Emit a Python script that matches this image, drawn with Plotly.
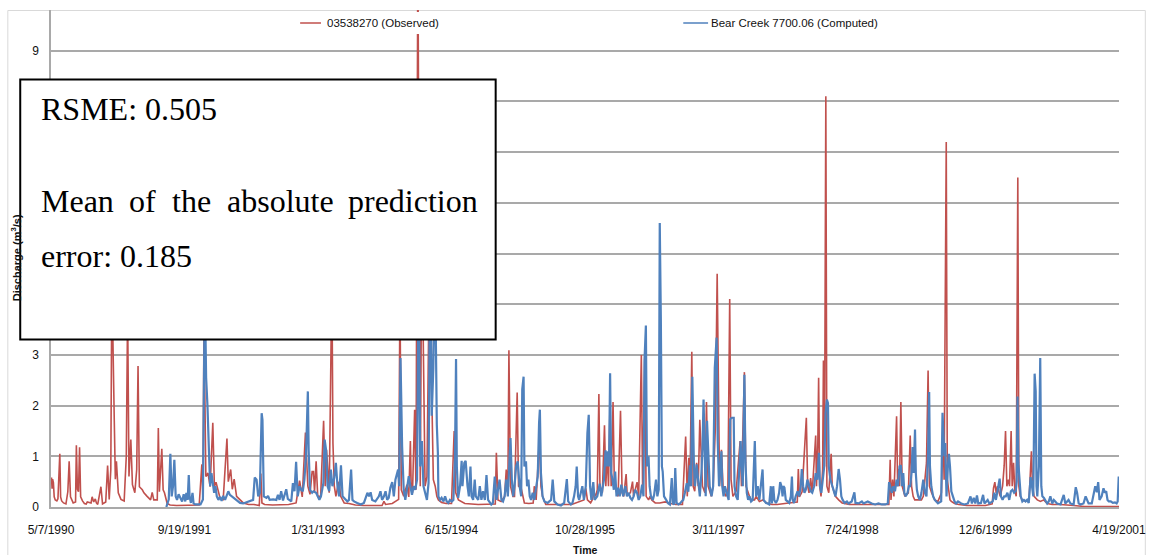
import datetime as dt
import pandas as pd
import plotly.graph_objects as go

# ---------------------------------------------------------------------------
# Daily discharge record, 5/7/1990 - 4/19/2001 (day index counted from 5/7/1990)
# ---------------------------------------------------------------------------
START = dt.date(1990, 5, 7)

obs_day = [
    0, 2, 4, 6, 9, 12, 16, 22, 26, 33, 36, 40, 47, 56, 63, 68, 73, 79, 83, 92,
    95, 99, 103, 107, 111, 118, 125, 132, 136, 150, 154, 160, 166, 170, 175, 187, 193, 205, 212, 218,
    224, 228, 232, 237, 241, 245, 252, 262, 274, 282, 287, 292, 299, 305, 314, 321, 326, 331, 342, 348,
    360, 373, 379, 385, 398, 402, 406, 415, 420, 425, 435, 446, 470, 500, 530, 555, 565, 569, 573, 580,
    588, 596, 606, 612, 618, 627, 633, 645, 659, 664, 673, 679, 683, 686, 695, 708, 720, 740, 760, 780,
    786, 790, 800, 830, 860, 890, 918, 931, 941, 953, 962, 970, 978, 983, 987, 993, 999, 1010, 1021, 1027,
    1032, 1042, 1052, 1056, 1061, 1067, 1074, 1079, 1085, 1098, 1116, 1140, 1170, 1200, 1240, 1247, 1253, 1278, 1290, 1302,
    1307, 1312, 1321, 1333, 1340, 1346, 1349, 1354, 1362, 1367, 1374, 1383, 1389, 1395, 1401, 1408, 1420, 1426, 1432, 1439,
    1445, 1451, 1463, 1480, 1500, 1510, 1516, 1526, 1550, 1600, 1640, 1664, 1668, 1674, 1686, 1699, 1705, 1711, 1715, 1721,
    1730, 1736, 1746, 1751, 1761, 1767, 1773, 1790, 1806, 1810, 1817, 1829, 1835, 1841, 1853, 1900, 1950, 1996, 2003, 2009,
    2015, 2021, 2027, 2034, 2040, 2046, 2052, 2056, 2065, 2073, 2078, 2083, 2088, 2093, 2098, 2105, 2110, 2118, 2124, 2133,
    2139, 2145, 2154, 2158, 2170, 2178, 2182, 2195, 2201, 2211, 2216, 2224, 2229, 2238, 2244, 2250, 2263, 2280, 2300, 2320,
    2340, 2365, 2377, 2383, 2389, 2393, 2400, 2405, 2411, 2418, 2424, 2430, 2436, 2440, 2449, 2455, 2461, 2467, 2473, 2480,
    2488, 2495, 2504, 2511, 2517, 2527, 2535, 2542, 2547, 2554, 2566, 2581, 2586, 2597, 2603, 2616, 2622, 2635, 2641, 2653,
    2666, 2680, 2700, 2720, 2745, 2763, 2795, 2799, 2803, 2813, 2829, 2834, 2839, 2845, 2851, 2864, 2867, 2872, 2875, 2879,
    2884, 2890, 2893, 2897, 2902, 2906, 2913, 2922, 2926, 2932, 2938, 2950, 2963, 2990, 3020, 3050, 3080, 3100, 3138, 3143,
    3146, 3152, 3157, 3167, 3171, 3175, 3178, 3183, 3188, 3198, 3211, 3218, 3223, 3229, 3235, 3260, 3267, 3279, 3285, 3290,
    3298, 3310, 3322, 3335, 3341, 3345, 3353, 3357, 3362, 3367, 3372, 3384, 3400, 3430, 3460, 3500, 3525, 3530, 3535, 3540,
    3545, 3555, 3564, 3570, 3575, 3580, 3586, 3590, 3596, 3600, 3605, 3610, 3615, 3621, 3625, 3630, 3638, 3650, 3663, 3672,
    3676, 3682, 3694, 3706, 3718, 3731, 3750, 3780, 3830, 3850, 3870, 4000,
]
obs_q = [
    0.45, 0.58, 0.36, 0.55, 0.48, 0.2, 0.14, 0.12, 0.16, 1.05, 0.2, 0.12, 0.08, 0.06, 0.3, 0.9, 0.2, 0.1, 0.08, 0.1,
    1.22, 0.35, 0.3, 1.18, 0.2, 0.12, 0.07, 0.06, 0.1, 0.08, 0.2, 0.1, 0.16, 0.08, 0.05, 0.4, 0.06, 0.1, 0.82, 0.15,
    0.74, 4.5, 2.78, 1.7, 0.55, 0.9, 0.28, 0.15, 0.12, 1.0, 3.9, 0.6, 1.33, 0.44, 0.28, 0.74, 2.78, 0.4, 0.34, 0.28,
    0.21, 0.14, 0.29, 0.14, 0.14, 1.56, 0.3, 1.15, 0.34, 0.28, 0.07, 0.04, 0.03, 0.03, 0.03, 0.04, 0.84, 0.15, 3.6, 0.6,
    0.67, 0.4, 1.66, 0.4, 0.49, 0.3, 0.18, 0.15, 1.35, 0.5, 0.74, 0.35, 0.54, 0.55, 0.21, 0.14, 0.08, 0.05, 0.05, 0.03,
    0.66, 0.08, 0.05, 0.04, 0.04, 0.05, 0.08, 0.52, 0.2, 1.47, 0.41, 0.25, 0.7, 0.7, 0.3, 0.9, 0.21, 0.21, 1.7, 0.41,
    1.13, 0.28, 4.5, 1.26, 0.41, 0.21, 0.41, 0.5, 0.21, 0.08, 0.07, 0.04, 0.03, 0.03, 0.03, 0.11, 0.05, 0.07, 0.11, 0.15,
    4.2, 0.34, 0.21, 0.44, 0.2, 1.3, 0.41, 0.28, 1.92, 0.34, 11.0, 0.41, 5.5, 2.5, 0.41, 0.6, 6.0, 2.28, 0.54, 0.41,
    0.21, 0.14, 0.09, 0.07, 0.07, 1.5, 0.28, 0.14, 0.07, 0.05, 0.05, 0.06, 1.07, 0.14, 0.11, 0.21, 0.74, 0.28, 3.09, 0.41,
    0.21, 0.21, 2.26, 0.41, 0.37, 0.21, 0.08, 0.07, 0.08, 0.41, 0.14, 1.33, 0.41, 0.21, 0.05, 0.05, 0.05, 0.14, 0.37, 0.14,
    0.11, 0.08, 0.14, 0.28, 0.21, 0.34, 2.23, 0.41, 0.28, 1.61, 0.41, 1.07, 0.41, 1.86, 0.41, 2.07, 0.41, 0.3, 0.21, 1.9,
    0.28, 0.21, 0.65, 0.24, 0.28, 0.5, 0.21, 0.49, 0.21, 3.0, 0.28, 3.06, 0.21, 0.14, 0.21, 0.14, 0.08, 0.08, 0.1, 0.07,
    0.05, 0.05, 1.39, 0.21, 0.97, 0.41, 3.06, 0.41, 0.31, 0.87, 0.41, 1.72, 1.07, 0.41, 0.28, 2.07, 0.41, 0.28, 0.21, 0.41,
    1.53, 4.6, 0.41, 1.13, 0.41, 0.21, 0.28, 4.1, 0.54, 0.21, 0.31, 1.3, 0.41, 2.66, 0.41, 0.21, 0.14, 0.14, 0.21, 0.11,
    0.14, 0.08, 0.05, 0.05, 0.06, 0.08, 0.1, 0.75, 0.2, 0.3, 1.76, 0.41, 0.28, 0.57, 0.28, 1.41, 0.41, 1.26, 2.55, 0.41,
    0.21, 0.74, 2.89, 0.8, 8.1, 0.41, 0.28, 1.05, 0.41, 0.28, 0.21, 0.14, 0.08, 0.05, 0.05, 0.05, 0.05, 0.05, 0.05, 0.93,
    0.14, 0.54, 0.21, 1.79, 0.41, 0.75, 0.41, 2.07, 0.41, 0.21, 0.28, 1.41, 0.41, 0.21, 0.14, 0.14, 0.21, 0.87, 2.69, 0.41,
    0.28, 0.14, 0.11, 0.28, 1.5, 0.54, 7.2, 0.54, 0.28, 0.14, 0.11, 0.07, 0.05, 0.03, 0.03, 0.03, 0.06, 0.37, 0.49, 0.28,
    0.41, 0.21, 0.41, 0.82, 1.5, 0.41, 0.54, 0.41, 1.5, 0.41, 0.87, 0.31, 0.21, 6.5, 0.41, 0.21, 0.14, 0.11, 0.14, 1.1,
    0.41, 0.21, 0.14, 0.11, 0.14, 0.07, 0.05, 0.05, 0.03, 0.02, 0.01, 0.01,
]

sim_day = [
    432, 441, 447, 452, 457, 462, 467, 472, 478, 484, 491, 497, 503, 507, 512, 516, 519, 524, 530, 534,
    540, 560, 569, 576, 581, 586, 591, 596, 601, 606, 611, 616, 621, 627, 633, 639, 645, 652, 658, 664,
    670, 683, 695, 708, 720, 745, 757, 763, 770, 776, 782, 789, 792, 797, 807, 813, 819, 832, 844, 850,
    856, 862, 869, 881, 887, 900, 906, 912, 918, 924, 931, 937, 943, 949, 955, 962, 965, 970, 978, 983,
    993, 1005, 1011, 1020, 1025, 1030, 1036, 1042, 1048, 1054, 1061, 1067, 1073, 1079, 1086, 1092, 1098, 1104, 1110, 1116,
    1124, 1129, 1135, 1147, 1160, 1172, 1185, 1191, 1197, 1203, 1215, 1228, 1234, 1240, 1247, 1253, 1259, 1265, 1271, 1278,
    1284, 1290, 1296, 1300, 1304, 1306, 1309, 1315, 1321, 1327, 1333, 1340, 1346, 1352, 1358, 1364, 1371, 1377, 1383, 1389,
    1395, 1401, 1408, 1414, 1420, 1426, 1432, 1436, 1441, 1445, 1449, 1451, 1457, 1463, 1470, 1476, 1482, 1488, 1494, 1501,
    1507, 1513, 1517, 1520, 1525, 1532, 1538, 1541, 1548, 1553, 1556, 1560, 1565, 1571, 1575, 1581, 1587, 1591, 1600, 1606,
    1612, 1618, 1625, 1631, 1637, 1643, 1649, 1655, 1662, 1668, 1674, 1680, 1687, 1693, 1699, 1705, 1711, 1717, 1721, 1726,
    1731, 1736, 1742, 1748, 1755, 1761, 1765, 1770, 1773, 1779, 1783, 1788, 1793, 1798, 1804, 1810, 1817, 1823, 1828, 1831,
    1835, 1841, 1848, 1860, 1873, 1879, 1885, 1897, 1910, 1922, 1932, 1937, 1947, 1953, 1959, 1965, 1969, 1974, 1978, 1984,
    1990, 1996, 2003, 2009, 2014, 2019, 2024, 2031, 2036, 2046, 2055, 2061, 2066, 2071, 2077, 2081, 2086, 2090, 2094, 2098,
    2103, 2108, 2113, 2118, 2124, 2130, 2136, 2143, 2151, 2157, 2163, 2170, 2176, 2182, 2188, 2195, 2201, 2207, 2214, 2219,
    2223, 2228, 2232, 2238, 2242, 2247, 2254, 2259, 2266, 2271, 2276, 2280, 2284, 2288, 2291, 2296, 2304, 2312, 2318, 2325,
    2329, 2334, 2338, 2343, 2350, 2356, 2362, 2368, 2374, 2381, 2387, 2393, 2397, 2402, 2408, 2412, 2418, 2424, 2430, 2436,
    2440, 2444, 2449, 2452, 2457, 2462, 2467, 2474, 2480, 2486, 2493, 2497, 2502, 2507, 2511, 2514, 2519, 2524, 2532, 2538,
    2544, 2550, 2557, 2560, 2566, 2572, 2579, 2583, 2586, 2591, 2597, 2601, 2606, 2611, 2616, 2622, 2628, 2632, 2636, 2641,
    2647, 2653, 2659, 2665, 2669, 2678, 2684, 2690, 2696, 2700, 2705, 2709, 2715, 2721, 2727, 2731, 2736, 2740, 2743, 2747,
    2752, 2758, 2765, 2771, 2775, 2778, 2783, 2789, 2796, 2802, 2808, 2812, 2817, 2822, 2827, 2833, 2839, 2845, 2851, 2858,
    2864, 2870, 2876, 2880, 2885, 2889, 2896, 2901, 2906, 2910, 2913, 2919, 2926, 2932, 2938, 2944, 2950, 2955, 2960, 2965,
    2972, 2981, 2987, 2999, 3009, 3013, 3025, 3037, 3043, 3059, 3068, 3074, 3087, 3099, 3112, 3124, 3134, 3139, 3143, 3149,
    3155, 3161, 3167, 3172, 3178, 3183, 3187, 3192, 3196, 3201, 3208, 3213, 3218, 3223, 3227, 3231, 3236, 3239, 3243, 3248,
    3254, 3260, 3267, 3273, 3279, 3285, 3289, 3292, 3297, 3304, 3310, 3316, 3322, 3328, 3334, 3339, 3342, 3346, 3349, 3354,
    3359, 3363, 3367, 3372, 3378, 3384, 3390, 3397, 3409, 3421, 3434, 3444, 3449, 3456, 3462, 3468, 3473, 3483, 3491, 3496,
    3508, 3514, 3527, 3533, 3539, 3545, 3553, 3558, 3564, 3570, 3576, 3582, 3589, 3595, 3601, 3607, 3613, 3617, 3620, 3623,
    3627, 3632, 3638, 3644, 3650, 3656, 3662, 3669, 3674, 3679, 3684, 3688, 3691, 3694, 3700, 3705, 3709, 3713, 3719, 3725,
    3731, 3737, 3743, 3750, 3756, 3768, 3781, 3793, 3799, 3811, 3818, 3830, 3838, 3843, 3849, 3855, 3867, 3875, 3880, 3886,
    3898, 3911, 3917, 3922, 3927, 3935, 3942, 3947, 3952, 3957, 3962, 3969, 3977, 3985, 3991, 3995, 3999,
]
sim_q = [
    0.0, 0.15, 1.05, 0.21, 0.41, 0.93, 0.21, 0.14, 0.25, 0.18, 0.11, 0.25, 0.11, 0.28, 0.14, 0.63, 0.21, 0.08, 0.28, 0.07,
    0.05, 0.05, 0.15, 4.4, 2.55, 2.0, 1.13, 0.41, 0.67, 0.47, 0.28, 0.41, 0.21, 0.14, 0.2, 0.12, 0.22, 0.14, 0.21, 0.31,
    0.24, 0.18, 0.14, 0.08, 0.07, 0.11, 0.14, 0.58, 0.54, 0.21, 0.28, 1.85, 1.72, 0.21, 0.18, 0.22, 0.14, 0.15, 0.14, 0.24,
    0.14, 0.31, 0.13, 0.35, 0.16, 0.11, 0.47, 0.31, 0.89, 0.21, 0.41, 0.34, 0.31, 0.54, 1.0, 2.28, 1.13, 0.34, 0.28, 0.31,
    0.28, 0.14, 0.21, 0.47, 1.33, 1.13, 0.41, 0.31, 0.74, 0.41, 0.58, 0.87, 0.41, 0.21, 0.82, 0.21, 0.18, 0.14, 0.11, 0.14,
    0.74, 0.14, 0.11, 0.08, 0.05, 0.08, 0.28, 0.21, 0.29, 0.14, 0.11, 0.21, 0.31, 0.14, 0.21, 0.31, 0.14, 0.18, 0.38, 0.49,
    0.21, 0.54, 0.67, 0.74, 0.41, 1.2, 2.94, 1.2, 0.34, 0.14, 0.41, 0.61, 0.41, 0.24, 0.41, 0.34, 0.54, 4.8, 0.8, 1.3,
    0.41, 0.28, 0.14, 0.47, 5.2, 1.8, 2.74, 4.2, 3.5, 1.62, 1.07, 0.21, 0.14, 0.18, 0.11, 0.21, 0.11, 0.08, 0.14, 0.11,
    0.14, 0.94, 2.92, 0.8, 0.18, 0.41, 0.91, 0.41, 0.87, 0.91, 0.67, 0.41, 0.21, 0.8, 0.21, 0.14, 0.54, 0.21, 0.14, 0.41,
    0.14, 0.31, 0.14, 0.63, 0.14, 0.08, 0.05, 0.08, 0.6, 0.14, 0.31, 0.54, 0.14, 0.11, 0.21, 0.54, 0.21, 0.8, 1.36, 0.54,
    0.21, 0.41, 0.8, 0.9, 0.41, 0.21, 2.32, 2.57, 0.8, 0.9, 0.41, 0.54, 0.21, 0.14, 0.28, 0.14, 0.41, 0.6, 1.66, 1.92,
    0.67, 0.21, 0.11, 0.08, 0.14, 0.54, 0.11, 0.05, 0.03, 0.08, 0.55, 0.11, 0.05, 0.08, 0.21, 0.41, 0.8, 0.21, 0.14, 0.31,
    0.41, 0.14, 0.41, 1.46, 1.82, 0.41, 0.14, 0.49, 0.14, 0.21, 0.46, 0.21, 0.41, 0.54, 1.12, 0.8, 1.1, 0.8, 2.64, 0.67,
    0.54, 0.34, 0.7, 0.21, 0.38, 0.21, 0.44, 0.21, 0.41, 0.21, 0.28, 0.18, 0.14, 0.21, 0.34, 0.28, 0.14, 0.21, 0.44, 0.21,
    2.9, 3.58, 0.8, 1.0, 0.41, 0.21, 0.14, 0.24, 0.54, 0.21, 0.34, 5.6, 3.73, 0.8, 0.7, 0.21, 0.14, 0.07, 0.05, 0.57,
    0.07, 0.05, 0.77, 0.08, 0.05, 0.07, 0.11, 0.14, 0.28, 0.47, 0.3, 0.82, 0.41, 2.57, 0.8, 0.41, 0.84, 0.54, 0.21, 0.67,
    1.16, 2.12, 1.0, 0.21, 1.7, 0.93, 0.41, 0.21, 0.41, 2.74, 3.34, 1.32, 0.41, 0.8, 1.1, 0.41, 0.21, 0.41, 0.28, 0.14,
    1.73, 1.76, 1.76, 0.41, 0.21, 0.14, 0.87, 1.3, 0.87, 0.41, 2.61, 0.87, 0.28, 0.14, 0.21, 0.11, 0.14, 0.74, 1.3, 0.21,
    0.41, 0.14, 0.41, 0.74, 0.14, 0.08, 0.07, 0.05, 0.41, 0.07, 0.41, 0.14, 0.08, 0.14, 0.28, 0.49, 0.41, 0.21, 0.41, 0.38,
    0.14, 0.11, 0.08, 0.21, 0.6, 0.14, 0.08, 0.21, 0.31, 0.21, 0.41, 0.75, 0.41, 0.28, 0.34, 0.54, 0.41, 0.31, 0.28, 0.41,
    0.67, 0.54, 1.07, 0.41, 0.28, 0.47, 0.8, 1.86, 2.12, 2.05, 0.8, 0.54, 0.41, 0.28, 0.21, 0.41, 0.75, 0.54, 0.21, 0.14,
    0.08, 0.11, 0.07, 0.11, 0.29, 0.08, 0.07, 0.11, 0.07, 0.11, 0.08, 0.07, 0.05, 0.07, 0.05, 0.05, 0.07, 0.49, 0.41, 0.28,
    0.41, 0.31, 0.54, 0.41, 0.8, 0.82, 0.41, 0.67, 0.28, 0.21, 0.28, 0.41, 0.41, 0.67, 1.18, 0.67, 1.53, 0.67, 0.34, 0.21,
    0.14, 0.28, 0.54, 0.28, 0.21, 1.07, 2.27, 0.8, 0.41, 0.21, 0.14, 0.11, 0.07, 0.09, 0.11, 1.86, 1.26, 1.0, 1.26, 0.21,
    0.8, 1.05, 0.8, 0.31, 0.21, 0.11, 0.07, 0.11, 0.07, 0.05, 0.07, 0.21, 0.07, 0.18, 0.07, 0.23, 0.07, 0.08, 0.24, 0.07,
    0.14, 0.07, 0.11, 0.28, 0.14, 0.34, 0.56, 0.21, 0.14, 0.21, 0.21, 0.28, 0.14, 0.31, 0.34, 0.28, 0.31, 0.5, 2.18, 0.87,
    0.47, 0.21, 0.11, 0.14, 0.11, 0.14, 0.08, 0.59, 0.41, 0.21, 2.63, 2.28, 0.41, 0.21, 0.8, 2.94, 0.41, 0.21, 0.18, 0.11,
    0.07, 0.11, 0.21, 0.07, 0.14, 0.07, 0.05, 0.24, 0.07, 0.14, 0.07, 0.05, 0.39, 0.28, 0.07, 0.05, 0.07, 0.21, 0.14, 0.07,
    0.07, 0.41, 0.29, 0.49, 0.14, 0.21, 0.37, 0.28, 0.31, 0.14, 0.11, 0.11, 0.08, 0.09, 0.07, 0.11, 0.6,
]

obs_name = "03538270 (Observed)"
sim_name = "Bear Creek 7700.06 (Computed)"
stat_rmse = "RSME: 0.505"
stat_mae_words = ["Mean", "of", "the", "absolute", "prediction"]
stat_mae_tail = "error: 0.185"

x_tick_days = [0, 500, 1000, 1500, 2000, 2500, 3000, 3500, 4000]
y_ticks = list(range(0, 10))

# ---------------------------------------------------------------------------
RED = "#C0504D"
BLUE = "#4F81BD"
GRID = "#a9a9a9"
SANS = "Liberation Sans, Arial, sans-serif"
SERIF = "Liberation Serif, Times New Roman, serif"

W_FIG, H_FIG = 1156, 555
M_L, M_R, M_T, M_B = 51, 29, 10, 48
PW = W_FIG - M_L - M_R
PH = H_FIG - M_T - M_B
PX_PER_UNIT = 50.7


def to_date(days):
    return [pd.Timestamp(START) + pd.Timedelta(days=int(d)) for d in days]


def fx(px):
    """page pixel column -> paper x"""
    return (px - M_L) / PW


def fy(py):
    """page pixel row -> paper y"""
    return (H_FIG - M_B - py) / PH


tick_dates = to_date(x_tick_days)
tick_text = [f"{d.month}/{d.day}/{d.year}" for d in tick_dates]

fig = go.Figure()
fig.add_trace(go.Scatter(
    x=to_date(obs_day), y=obs_q, mode="lines", name=obs_name,
    line=dict(color=RED, width=1.6), showlegend=False,
))
fig.add_trace(go.Scatter(
    x=to_date(sim_day), y=sim_q, mode="lines", name=sim_name,
    line=dict(color=BLUE, width=2.2), showlegend=False,
))

shapes = [
    # outer chart frame
    dict(type="rect", xref="paper", yref="paper", x0=fx(7.5), x1=fx(1153.5),
         y0=fy(600), y1=fy(10.5), line=dict(color="#d9d9d9", width=1),
         fillcolor="rgba(0,0,0,0)", layer="below"),
    # legend backdrop
    dict(type="rect", xref="paper", yref="paper", x0=fx(292), x1=fx(890),
         y0=fy(34), y1=fy(12), line=dict(width=0), fillcolor="white", layer="above"),
    dict(type="line", xref="paper", yref="paper", x0=fx(302), x1=fx(323),
         y0=fy(23), y1=fy(23), line=dict(color=RED, width=1.5), layer="above"),
    dict(type="line", xref="paper", yref="paper", x0=fx(688), x1=fx(713),
         y0=fy(23), y1=fy(23), line=dict(color=BLUE, width=1.5), layer="above"),
    # statistics box
    dict(type="rect", xref="paper", yref="paper", x0=fx(20), x1=fx(499),
         y0=fy(339.5), y1=fy(79.5), line=dict(color="black", width=2),
         fillcolor="white", layer="above"),
]

annotations = [
    dict(text=obs_name, x=fx(327), y=fy(23), xanchor="left", yanchor="middle",
         font=dict(family=SANS, size=11.5, color="#111")),
    dict(text=sim_name, x=fx(714), y=fy(23), xanchor="left", yanchor="middle",
         font=dict(family=SANS, size=11.5, color="#111")),
    dict(text="<b>Time</b>", x=fx(589), y=fy(550), xanchor="center", yanchor="middle",
         font=dict(family=SANS, size=10.5, color="#111")),
    dict(text="<b>Discharge (m<sup>3</sup>/s)</b>", x=fx(16), y=fy(258), textangle=-90,
         xanchor="center", yanchor="middle",
         font=dict(family=SANS, size=11, color="#111")),
    dict(text=stat_rmse, x=fx(39), y=fy(109), xanchor="left", yanchor="middle",
         font=dict(family=SERIF, size=32, color="black")),
    dict(text=stat_mae_tail, x=fx(39), y=fy(256), xanchor="left", yanchor="middle",
         font=dict(family=SERIF, size=32, color="black")),
]
# justified line: words spread across the box width
word_left = [39, 128, 171, 226, 348]
for word, left in zip(stat_mae_words, word_left):
    annotations.append(dict(text=word, x=fx(left), y=fy(201), xanchor="left",
                            yanchor="middle",
                            font=dict(family=SERIF, size=32, color="black")))

for a in annotations:
    a.update(xref="paper", yref="paper", showarrow=False)

fig.update_layout(
    width=W_FIG, height=H_FIG,
    margin=dict(l=M_L, r=M_R, t=M_T, b=M_B, pad=0),
    paper_bgcolor="white", plot_bgcolor="white",
    shapes=shapes, annotations=annotations,
    xaxis=dict(
        type="date",
        range=[tick_dates[0], tick_dates[-1]],
        tickvals=tick_dates, ticktext=tick_text,
        showgrid=False, zeroline=False,
        showline=True, linecolor=GRID, linewidth=1.5,
        ticks="", ticklabelstandoff=11, ticklabeloverflow="allow",
        tickfont=dict(family=SANS, size=12, color="#111"),
    ),
    yaxis=dict(
        range=[0, PH / PX_PER_UNIT],
        tickvals=y_ticks,
        showgrid=True, gridcolor=GRID, gridwidth=1.5,
        zeroline=False,
        showline=True, linecolor=GRID, linewidth=1.5,
        ticks="", ticklabelstandoff=8,
        tickfont=dict(family=SANS, size=12, color="#111"),
    ),
)

fig.write_html("out.html")
